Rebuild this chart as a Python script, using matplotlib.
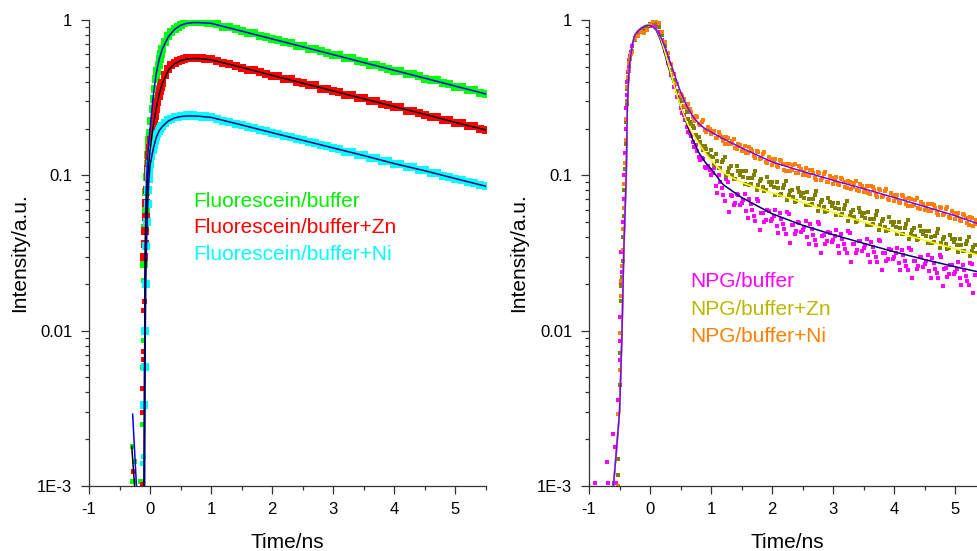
import numpy as np
import matplotlib
matplotlib.use("Agg")
import matplotlib.pyplot as plt
from matplotlib.ticker import FixedLocator, FixedFormatter, LogLocator, NullFormatter, MultipleLocator

plt.rcParams['font.family'] = ['Liberation Sans', 'DejaVu Sans']
plt.rcParams['axes.unicode_minus'] = False

# ---------------- left panel: fluorescein ----------------
t_left = [-0.10, -0.09, -0.08, -0.07, -0.06, -0.05, -0.04, -0.03, -0.02, -0.01,
          0.00, 0.02, 0.04, 0.06, 0.08, 0.10, 0.12, 0.14, 0.16, 0.18, 0.20,
          0.25, 0.30, 0.35, 0.40, 0.45, 0.50, 0.55, 0.60, 0.65, 0.70, 0.75,
          0.80, 0.85, 0.90, 0.95,
          1.0, 1.1, 1.2, 1.3, 1.4, 1.5, 1.6, 1.7, 1.8, 1.9, 2.0, 2.1, 2.2, 2.3,
          2.4, 2.5, 2.6, 2.7, 2.8, 2.9, 3.0, 3.1, 3.2, 3.3, 3.4, 3.5, 3.6, 3.7,
          3.8, 3.9, 4.0, 4.1, 4.2, 4.3, 4.4, 4.5, 4.6, 4.7, 4.8, 4.9, 5.0, 5.1,
          5.2, 5.3, 5.4, 5.5]

green = [0.027, 0.036, 0.046, 0.060, 0.078, 0.098, 0.118, 0.136, 0.152, 0.168,
         0.188, 0.225, 0.268, 0.312, 0.362, 0.418, 0.468, 0.512, 0.558, 0.602, 0.648,
         0.722, 0.785, 0.832, 0.872, 0.905, 0.935, 0.952, 0.968, 0.978, 0.985, 0.978,
         0.982, 0.972, 0.970, 0.962,
         0.958, 0.941, 0.905, 0.898, 0.872, 0.846, 0.824, 0.820, 0.786, 0.772, 0.760,
         0.738, 0.717, 0.712, 0.684, 0.680, 0.652, 0.650, 0.628, 0.612, 0.594, 0.592,
         0.567, 0.566, 0.541, 0.540, 0.517, 0.516, 0.498, 0.482, 0.471, 0.470, 0.449,
         0.449, 0.434, 0.420, 0.410, 0.408, 0.391, 0.390, 0.373, 0.372, 0.356, 0.352,
         0.340, 0.336]

red = [0.030, 0.036, 0.044, 0.054, 0.066, 0.080, 0.098, 0.110, 0.122, 0.135,
       0.150, 0.170, 0.190, 0.215, 0.240, 0.268, 0.296, 0.322, 0.348, 0.372, 0.395,
       0.445, 0.485, 0.512, 0.532, 0.545, 0.553, 0.560, 0.566, 0.570, 0.568, 0.572,
       0.566, 0.567, 0.561, 0.562,
       0.558, 0.548, 0.527, 0.524, 0.508, 0.494, 0.479, 0.478, 0.460, 0.452, 0.437,
       0.436, 0.417, 0.415, 0.401, 0.392, 0.380, 0.379, 0.362, 0.361, 0.347, 0.343,
       0.329, 0.330, 0.314, 0.315, 0.300, 0.300, 0.288, 0.283, 0.274, 0.274, 0.261,
       0.261, 0.252, 0.246, 0.238, 0.238, 0.227, 0.227, 0.217, 0.216, 0.207, 0.207,
       0.198, 0.196]

cyan = [0.0033, 0.0058, 0.010, 0.020, 0.035, 0.050, 0.065, 0.080, 0.095, 0.107,
        0.118, 0.134, 0.146, 0.157, 0.167, 0.176, 0.185, 0.192, 0.198, 0.204, 0.208,
        0.218, 0.226, 0.231, 0.236, 0.238, 0.241, 0.242, 0.244, 0.242, 0.244, 0.241,
        0.242, 0.239, 0.240, 0.237,
        0.238, 0.232, 0.225, 0.222, 0.215, 0.212, 0.205, 0.202, 0.196, 0.193, 0.187,
        0.185, 0.179, 0.177, 0.171, 0.169, 0.163, 0.161, 0.156, 0.154, 0.149, 0.148,
        0.142, 0.141, 0.136, 0.135, 0.130, 0.129, 0.124, 0.123, 0.118, 0.118, 0.113,
        0.113, 0.108, 0.108, 0.103, 0.103, 0.0990, 0.0982, 0.0946, 0.0937, 0.0903,
        0.0896, 0.0864, 0.0856]

# sparse points before the rise
green_early_t = [-0.30, -0.29, -0.28, -0.27, -0.16, -0.15, -0.14, -0.125, -0.12, -0.115, -0.11, -0.105]
green_early = [0.0018, 0.00108, 0.00108, 0.00145, 0.00108, 0.00108, 0.0025, 0.0058, 0.0087, 0.0101, 0.0213, 0.0267]
red_early_t = [-0.28, -0.14, -0.14, -0.13, -0.125, -0.12, -0.115, -0.11, -0.105]
red_early = [0.00124, 0.00141, 0.00103, 0.0030, 0.00427, 0.0066, 0.0074, 0.0135, 0.0156]
cyan_early_t = [-0.14, -0.12]
cyan_early = [0.00141, 0.00155]

# fitted curves
fit_green_t = [-0.285, -0.22, -0.15, -0.10, -0.09, -0.08, -0.07, -0.06, -0.04, -0.02, 0.0,
               0.05, 0.1, 0.15, 0.2, 0.3, 0.4, 0.5, 0.6, 0.7, 0.8, 1.0, 1.5, 2.0, 2.5,
               3.0, 3.5, 4.0, 4.5, 5.0, 5.5]
fit_green = [0.0029, 0.00095, 0.0002, 0.0006, 0.005, 0.030, 0.062, 0.090, 0.130, 0.165, 0.200,
             0.320, 0.450, 0.560, 0.650, 0.780, 0.870, 0.925, 0.952, 0.962, 0.962, 0.952,
             0.848, 0.755, 0.672, 0.598, 0.532, 0.474, 0.422, 0.375, 0.334]
fit_red_t = [-0.30, -0.25, -0.18, -0.10, -0.09, -0.08, -0.07, -0.06, -0.04, -0.02, 0.0,
             0.05, 0.1, 0.15, 0.2, 0.3, 0.4, 0.5, 0.6, 0.7, 0.8, 1.0, 1.5, 2.0, 2.5,
             3.0, 3.5, 4.0, 4.5, 5.0, 5.5]
fit_red = [0.0018, 0.00095, 0.0002, 0.0008, 0.006, 0.030, 0.050, 0.065, 0.095, 0.120, 0.145,
           0.205, 0.270, 0.335, 0.390, 0.475, 0.522, 0.548, 0.560, 0.565, 0.564, 0.555,
           0.495, 0.440, 0.392, 0.349, 0.311, 0.277, 0.247, 0.219, 0.196]
fit_cyan_t = [-0.09, -0.08, -0.07, -0.06, -0.04, -0.02, 0.0, 0.05, 0.1, 0.15, 0.2, 0.3,
              0.4, 0.5, 0.6, 0.7, 0.8, 1.0, 1.5, 2.0, 2.5, 3.0, 3.5, 4.0, 4.5, 5.0, 5.5]
fit_cyan = [0.0008, 0.008, 0.020, 0.033, 0.063, 0.093, 0.116, 0.147, 0.175, 0.194, 0.206,
            0.224, 0.234, 0.239, 0.241, 0.241, 0.240, 0.236, 0.211, 0.188, 0.168, 0.150,
            0.134, 0.119, 0.107, 0.0953, 0.0850]

# ---------------- right panel: NPG ----------------
t_right = np.round(np.arange(-0.30, 5.351, 0.05), 2)
t_right_mid = np.round(np.arange(0.525, 5.33, 0.05), 3)

orange = [0.62, 0.75, 0.79, 0.84, 0.83, 0.86, 0.93, 0.99, 1.00, 0.95, 0.84, 0.72, 0.61, 0.52, 0.45, 0.39,
          0.335, 0.31, 0.272, 0.266, 0.238, 0.240, 0.214, 0.219, 0.197, 0.205,
          0.184, 0.192, 0.173, 0.183, 0.166, 0.176, 0.158, 0.167, 0.150, 0.160,
          0.144, 0.155, 0.139, 0.147, 0.133, 0.143, 0.128, 0.138, 0.122, 0.131,
          0.117, 0.127, 0.113, 0.124, 0.109, 0.119, 0.106, 0.117, 0.104, 0.114,
          0.101, 0.111, 0.0985, 0.108, 0.0960, 0.105, 0.0935, 0.102, 0.0910, 0.0995,
          0.0885, 0.0970, 0.0862, 0.0945, 0.0840, 0.0922, 0.0820, 0.0898, 0.0800, 0.0877,
          0.0780, 0.0856, 0.0762, 0.0835, 0.0742, 0.0814, 0.0724, 0.0793, 0.0705, 0.0772,
          0.0686, 0.0752, 0.0668, 0.0733, 0.0651, 0.0714, 0.0634, 0.0695, 0.0617, 0.0676,
          0.0600, 0.0658, 0.0585, 0.0641, 0.0569, 0.0624, 0.0554, 0.0607, 0.0539, 0.0590,
          0.0524, 0.0572, 0.0507, 0.0554, 0.0490, 0.0536, 0.0475, 0.0519]
orange_mid = [0.322, 0.280, 0.289, 0.257, 0.224, 0.237, 0.212, 0.227, 0.190, 0.199,
              0.187, 0.175, 0.190, 0.177, 0.160, 0.174, 0.159, 0.172, 0.147, 0.156,
              0.148, 0.139, 0.152, 0.143, 0.129, 0.141, 0.129, 0.141, 0.120, 0.127,
              0.121, 0.114, 0.125, 0.118, 0.107, 0.118, 0.109, 0.119, 0.103, 0.110,
              0.105, 0.0998, 0.109, 0.103, 0.094, 0.104, 0.0956, 0.105, 0.0902, 0.0964,
              0.0924, 0.0876, 0.0963, 0.0906, 0.0824, 0.0909, 0.0838, 0.0921, 0.0793, 0.0850,
              0.0815, 0.0773, 0.0851, 0.0801, 0.0729, 0.0803, 0.0740, 0.0812, 0.0698, 0.0747,
              0.0715, 0.0678, 0.0746, 0.0702, 0.0638, 0.0704, 0.0648, 0.0711, 0.0611, 0.0653,
              0.0626, 0.0593, 0.0653, 0.0614, 0.0558, 0.0615, 0.0566, 0.0621, 0.0534, 0.0571,
              0.0545, 0.0515, 0.0565, 0.0529, 0.0480, 0.0528, 0.0485]

olive = [0.63, 0.74, 0.80, 0.84, 0.87, 0.90, 0.94, 0.97, 0.96, 0.90, 0.80, 0.68, 0.57, 0.48, 0.41, 0.35,
         0.320, 0.280, 0.255, 0.222, 0.208, 0.183, 0.176, 0.154, 0.155, 0.138,
         0.145, 0.116, 0.124, 0.112, 0.126, 0.0988, 0.111, 0.101, 0.0952, 0.107,
         0.106, 0.0878, 0.0960, 0.0883, 0.101, 0.0805, 0.0917, 0.0847, 0.0802, 0.0910,
         0.0905, 0.0752, 0.0824, 0.0759, 0.0872, 0.0691, 0.0788, 0.0726, 0.0687, 0.0779,
         0.0774, 0.0643, 0.0705, 0.0649, 0.0747, 0.0592, 0.0675, 0.0623, 0.0590, 0.0669,
         0.0665, 0.0553, 0.0607, 0.0560, 0.0644, 0.0511, 0.0583, 0.0538, 0.0509, 0.0578,
         0.0575, 0.0478, 0.0525, 0.0484, 0.0557, 0.0442, 0.0505, 0.0467, 0.0443, 0.0503,
         0.0500, 0.0416, 0.0457, 0.0422, 0.0486, 0.0387, 0.0442, 0.0409, 0.0388, 0.0441,
         0.0439, 0.0366, 0.0402, 0.0371, 0.0427, 0.0339, 0.0388, 0.0359, 0.0342, 0.0389,
         0.0388, 0.0323, 0.0355, 0.0328, 0.0379, 0.0301, 0.0344, 0.0318]
olive_mid = [0.301, 0.276, 0.231, 0.215, 0.202, 0.173, 0.165, 0.146, 0.147, 0.133,
             0.132, 0.138, 0.112, 0.121, 0.132, 0.105, 0.114, 0.0944, 0.115, 0.101,
             0.0977, 0.106, 0.0872, 0.0962, 0.107, 0.0865, 0.0944, 0.0792, 0.0973, 0.0863,
             0.0836, 0.0907, 0.0749, 0.0827, 0.0924, 0.0743, 0.0809, 0.0678, 0.0832, 0.0739,
             0.0715, 0.0776, 0.0642, 0.0708, 0.0791, 0.0637, 0.0694, 0.0582, 0.0715, 0.0634,
             0.0614, 0.0668, 0.0552, 0.0611, 0.0683, 0.0550, 0.0600, 0.0502, 0.0617, 0.0548,
             0.0531, 0.0577, 0.0477, 0.0527, 0.0590, 0.0476, 0.0520, 0.0437, 0.0537, 0.0477,
             0.0462, 0.0503, 0.0416, 0.0461, 0.0517, 0.0416, 0.0456, 0.0382, 0.0472, 0.0419,
             0.0407, 0.0441, 0.0366, 0.0404, 0.0454, 0.0366, 0.0400, 0.0337, 0.0415, 0.0370,
             0.0358, 0.0391, 0.0324, 0.0359, 0.0402, 0.0324, 0.0355]

magenta = [0.68, 0.77, 0.82, 0.85, 0.87, 0.89, 0.92, 0.93, 0.90, 0.84, 0.74, 0.63, 0.53, 0.44, 0.37, 0.32,
           0.272, 0.245, 0.204, 0.186, 0.163, 0.156, 0.132, 0.129, 0.113, 0.115,
           0.101, 0.111, 0.0764, 0.0911, 0.0748, 0.0941, 0.0583, 0.0741, 0.0664, 0.0750,
           0.0665, 0.0753, 0.0530, 0.0649, 0.0549, 0.0707, 0.0444, 0.0573, 0.0519, 0.0590,
           0.0526, 0.0600, 0.0426, 0.0526, 0.0449, 0.0581, 0.0367, 0.0477, 0.0435, 0.0496,
           0.0445, 0.0509, 0.0362, 0.0448, 0.0383, 0.0497, 0.0315, 0.0410, 0.0375, 0.0428,
           0.0386, 0.0443, 0.0316, 0.0392, 0.0336, 0.0437, 0.0277, 0.0361, 0.0330, 0.0377,
           0.0339, 0.0390, 0.0278, 0.0345, 0.0296, 0.0384, 0.0244, 0.0318, 0.0290, 0.0333,
           0.0299, 0.0343, 0.0246, 0.0305, 0.0262, 0.0340, 0.0217, 0.0282, 0.0259, 0.0296,
           0.0267, 0.0307, 0.0219, 0.0272, 0.0234, 0.0305, 0.0194, 0.0253, 0.0231, 0.0265,
           0.0240, 0.0275, 0.0197, 0.0245, 0.0210, 0.0274, 0.0174, 0.0228]
magenta_mid = [0.252, 0.228, 0.190, 0.180, 0.153, 0.143, 0.126, 0.127, 0.112, 0.109,
               0.104, 0.086, 0.100, 0.0824, 0.0688, 0.0908, 0.0747, 0.0645, 0.0760, 0.0645,
               0.0692, 0.0592, 0.0704, 0.0595, 0.0510, 0.0686, 0.0573, 0.0501, 0.0596, 0.0509,
               0.0550, 0.0474, 0.0568, 0.0484, 0.0418, 0.0565, 0.0476, 0.0418, 0.0500, 0.0429,
               0.0465, 0.0402, 0.0483, 0.0413, 0.0358, 0.0485, 0.0409, 0.0360, 0.0431, 0.0372,
               0.0404, 0.0350, 0.0422, 0.0361, 0.0314, 0.0426, 0.0359, 0.0317, 0.0379, 0.0327,
               0.0356, 0.0309, 0.0372, 0.0319, 0.0276, 0.0375, 0.0317, 0.0279, 0.0335, 0.0288,
               0.0314, 0.0272, 0.0329, 0.0281, 0.0245, 0.0332, 0.0281, 0.0248, 0.0298, 0.0256,
               0.0279, 0.0243, 0.0293, 0.0251, 0.0218, 0.0297, 0.0251, 0.0222, 0.0266, 0.0231,
               0.0251, 0.0218, 0.0264, 0.0226, 0.0197, 0.0267, 0.0227]

magenta_early_t = [-0.90, -0.71, -0.69, -0.61, -0.59, -0.57, -0.55, -0.52, -0.50, -0.50, -0.49,
                   -0.48, -0.47, -0.46, -0.45, -0.44, -0.43, -0.42, -0.41, -0.40, -0.39, -0.38,
                   -0.37, -0.36, -0.35, -0.34, -0.33, -0.32]
magenta_early = [0.00105, 0.00142, 0.00105, 0.00216, 0.00105, 0.00179, 0.00105, 0.0036, 0.0065,
                 0.0086, 0.0122, 0.0197, 0.032, 0.024, 0.040, 0.050, 0.070, 0.10, 0.14, 0.20,
                 0.27, 0.33, 0.40, 0.46, 0.50, 0.55, 0.59, 0.62]
olive_early_t = [-0.53, -0.52, -0.50, -0.49, -0.48, -0.47, -0.46, -0.45, -0.44, -0.43, -0.42,
                 -0.41, -0.40, -0.39, -0.38, -0.37, -0.36, -0.35, -0.34, -0.33, -0.32]
olive_early = [0.00118, 0.0015, 0.0045, 0.0072, 0.0156, 0.0194, 0.022, 0.028, 0.040, 0.055,
               0.080, 0.11, 0.16, 0.22, 0.29, 0.36, 0.42, 0.47, 0.52, 0.56, 0.60]
orange_early_t = [-0.53, -0.52, -0.50, -0.49, -0.48, -0.47, -0.46, -0.45, -0.44, -0.43, -0.42,
                  -0.41, -0.40, -0.39, -0.38, -0.37, -0.36, -0.35, -0.34, -0.33, -0.32]
orange_early = [0.0029, 0.0010, 0.0056, 0.0096, 0.0168, 0.021, 0.026, 0.033, 0.045, 0.062,
                0.088, 0.12, 0.17, 0.23, 0.30, 0.37, 0.43, 0.48, 0.53, 0.57, 0.60]

fit_right_t = [-0.60, -0.55, -0.50, -0.48, -0.46, -0.43, -0.41, -0.39, -0.37, -0.34, -0.29,
               -0.25, -0.20, -0.15, -0.10, -0.05, 0.00, 0.05, 0.10, 0.15, 0.20, 0.25, 0.30,
               0.35, 0.40, 0.45, 0.50, 0.60, 0.70, 0.80, 0.90, 1.00, 1.20, 1.50, 2.00, 2.50,
               3.00, 3.50, 4.00, 4.50, 5.00, 5.40]
fit_purple = [0.001, 0.0017, 0.003, 0.0053, 0.0095, 0.033, 0.057, 0.10, 0.30, 0.50, 0.70,
              0.80, 0.85, 0.885, 0.91, 0.925, 0.925, 0.91, 0.87, 0.81, 0.74, 0.66, 0.58,
              0.51, 0.45, 0.39, 0.345, 0.28, 0.24, 0.215, 0.20, 0.19, 0.172, 0.150, 0.122,
              0.106, 0.093, 0.082, 0.072, 0.063, 0.055, 0.0485]
fit_yellow = [0.001, 0.0017, 0.003, 0.0053, 0.0095, 0.033, 0.057, 0.10, 0.30, 0.50, 0.70,
              0.80, 0.855, 0.89, 0.915, 0.935, 0.935, 0.915, 0.87, 0.80, 0.71, 0.61, 0.52,
              0.44, 0.375, 0.32, 0.28, 0.22, 0.185, 0.16, 0.14, 0.125, 0.104, 0.090, 0.077,
              0.067, 0.0578, 0.050, 0.0435, 0.0382, 0.0337, 0.0305]
fit_navy = [0.001, 0.0017, 0.003, 0.0053, 0.0095, 0.033, 0.057, 0.10, 0.30, 0.50, 0.70,
            0.80, 0.85, 0.885, 0.91, 0.925, 0.925, 0.905, 0.86, 0.78, 0.69, 0.59, 0.50,
            0.43, 0.38, 0.325, 0.28, 0.215, 0.17, 0.14, 0.122, 0.11, 0.087, 0.072, 0.0566,
            0.0477, 0.0415, 0.0365, 0.0322, 0.0287, 0.0258, 0.0238]

assert len(t_left) == len(green) == len(red) == len(cyan)
assert len(t_right) == len(orange) == len(olive) == len(magenta)
assert len(t_right_mid) == len(orange_mid) == len(olive_mid) == len(magenta_mid)

# ---------------- figure ----------------
fig = plt.figure(figsize=(9.77, 5.51), dpi=100)
ax1 = fig.add_axes([0.0911, 0.118, 0.4063, 0.8457])
ax2 = fig.add_axes([0.6029, 0.118, 0.3971, 0.8457])


def style_axes(ax, xmax):
    ax.set_yscale('log')
    ax.set_ylim(1e-3, 1)
    ax.set_xlim(-1, xmax)
    for side in ('top', 'right'):
        ax.spines[side].set_visible(False)
    for side in ('left', 'bottom'):
        ax.spines[side].set_linewidth(0.9)
        ax.spines[side].set_color('#333333')
    ax.yaxis.set_major_locator(FixedLocator([1e-3, 1e-2, 1e-1, 1]))
    ax.yaxis.set_major_formatter(FixedFormatter(['1E-3', '0.01', '0.1', '1']))
    ax.yaxis.set_minor_locator(LogLocator(base=10, subs=np.arange(2, 10)))
    ax.yaxis.set_minor_formatter(NullFormatter())
    ax.xaxis.set_major_locator(FixedLocator([-1, 0, 1, 2, 3, 4, 5]))
    ax.xaxis.set_minor_locator(MultipleLocator(0.5))
    ax.tick_params(which='major', direction='out', length=6, width=0.9, color='#333333',
                   labelsize=12)
    ax.tick_params(which='minor', direction='out', length=3, width=0.9, color='#333333')
    ax.tick_params(axis='x', which='major', pad=5.5)
    ax.tick_params(axis='y', which='major', pad=6)
    ax.set_xlabel('Time/ns', fontsize=15)
    ax.set_ylabel('Intensity/a.u.', fontsize=15)


style_axes(ax1, 5.5)
style_axes(ax2, 5.36)
ax1.xaxis.set_label_coords(0.5, -0.10)
ax2.xaxis.set_label_coords(0.51, -0.10)
ax1.yaxis.set_label_coords(-0.151, 0.5)
ax2.yaxis.set_label_coords(-0.156, 0.5)

# left panel data and fits
ms_l = 5.3
ms_e = 3.6
for t_e, v_e, v_main, col in [(green_early_t, green_early, green, '#00ff00'),
                              (red_early_t, red_early, red, '#ff0000'),
                              (cyan_early_t, cyan_early, cyan, '#00ffff')]:
    ax1.plot(t_e, v_e, ls='none', marker='s', ms=ms_e, mew=0, color=col)
    ax1.plot(t_left, v_main, ls='none', marker='s', ms=ms_l, mew=0, color=col)
ax1.plot(fit_green_t, fit_green, color='#0000ff', lw=1.1)
ax1.plot(fit_red_t, fit_red, color='#000000', lw=1.1)
ax1.plot(fit_cyan_t, fit_cyan, color='#000080', lw=1.1)

tx = 0.263
ax1.text(tx, 0.598, 'Fluorescein/buffer', transform=ax1.transAxes, color='#00ee00', fontsize=15)
ax1.text(tx, 0.542, 'Fluorescein/buffer+Zn', transform=ax1.transAxes, color='#ff0000', fontsize=15)
ax1.text(tx, 0.485, 'Fluorescein/buffer+Ni', transform=ax1.transAxes, color='#00ffff', fontsize=15)

# right panel data and fits
ms_r = 3.0
for t_e, v_e, v_main, v_mid, col in [
        (magenta_early_t, magenta_early, magenta, magenta_mid, '#ff00ff'),
        (olive_early_t, olive_early, olive, olive_mid, '#808000'),
        (orange_early_t, orange_early, orange, orange_mid, '#ff8000')]:
    tt = t_e + list(t_right) + list(t_right_mid)
    vv = v_e + v_main + v_mid
    ax2.plot(tt, vv, ls='none', marker='s', ms=ms_r, mew=0, color=col)
ax2.plot(fit_right_t, fit_navy, color='#000070', lw=1.1)
ax2.plot(fit_right_t, fit_yellow, color='#ffff00', lw=1.1)
ax2.plot(fit_right_t, fit_purple, color='#8000ff', lw=1.1)

tx = 0.260
ax2.text(tx, 0.427, 'NPG/buffer', transform=ax2.transAxes, color='#ff00ff', fontsize=15)
ax2.text(tx, 0.367, 'NPG/buffer+Zn', transform=ax2.transAxes, color='#b8b800', fontsize=15)
ax2.text(tx, 0.310, 'NPG/buffer+Ni', transform=ax2.transAxes, color='#ff8000', fontsize=15)

fig.savefig('out.png', dpi=100)
